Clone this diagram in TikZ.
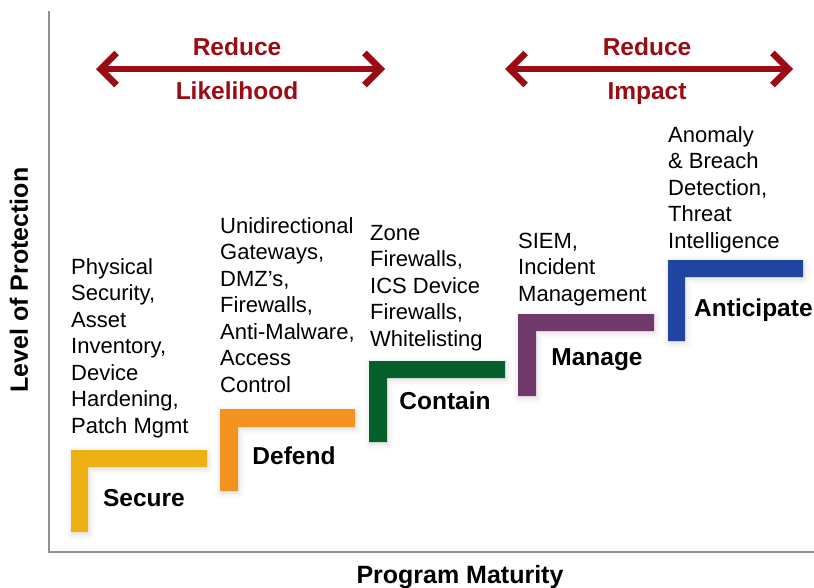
\documentclass[tikz,border=0pt]{standalone}
\usepackage{fontspec}
\setmainfont{Liberation Sans}
\usetikzlibrary{arrows.meta,shadows.blur}
\definecolor{axisgray}{HTML}{909095}
\definecolor{goalred}{HTML}{9B0B13}
\definecolor{secureC}{HTML}{EEB114}
\definecolor{defendC}{HTML}{F4921F}
\definecolor{containC}{HTML}{05612B}
\definecolor{manageC}{HTML}{713A6D}
\definecolor{anticipateC}{HTML}{1F45A0}
\tikzset{
  axis/.style={draw=axisgray, line width=2pt},
  axislabel/.style={font=\fontsize{25}{29}\selectfont\bfseries, text=black, inner sep=0pt},
  goalarrow/.style={draw=goalred, line width=6.5pt,
    {Straight Barb[length=16pt,width=32pt,sharp]}-{Straight Barb[length=16pt,width=32pt,sharp]}},
  goallabel/.style={font=\fontsize{24.5}{28}\selectfont\bfseries, text=goalred, inner sep=0pt, anchor=base},
  stair/.style={fill=#1, draw=none, blur shadow={shadow xshift=1pt, shadow yshift=-2pt, shadow blur radius=6pt, shadow opacity=15}},
  stagelabel/.style={font=\fontsize{24.5}{28}\selectfont\bfseries, inner sep=0pt, anchor=base},
  measures/.style={font=\fontsize{22}{26.5}\selectfont, align=left, inner sep=0pt, anchor=base west},
}
\begin{document}
\begin{tikzpicture}[x=1pt,y=-1pt]
\useasboundingbox (0,0) rectangle (814,587);

% axes
\coordinate (ytop) at (48.5,11);
\coordinate (origin) at (48.5,552);
\coordinate (xend) at (814,552);
\draw[axis] (ytop) -- (origin) -- (xend);
\node[axislabel, rotate=90, anchor=center] (ylab) at (19,280) {Level of Protection};
\node[axislabel, anchor=base] (xlab) at (460,583) {Program Maturity};

% goal arrows
\coordinate (likeL) at (96,69);
\coordinate (likeR) at (385,69);
\draw[goalarrow] (likeL) -- (likeR);
\node[goallabel] (red1) at (237,55) {Reduce};
\node[goallabel] (lik) at (237,99) {Likelihood};

\coordinate (impL) at (505,69);
\coordinate (impR) at (793,69);
\draw[goalarrow] (impL) -- (impR);
\node[goallabel] (red2) at (647,55) {Reduce};
\node[goallabel] (imp) at (647,99) {Impact};

% stairs
\path[stair=secureC] (71,450) -- (207,450) -- (207,467) -- (88,467) -- (88,532) -- (71,532) -- cycle;
\path[stair=defendC] (220,409) -- (355,409) -- (355,427) -- (238,427) -- (238,491) -- (220,491) -- cycle;
\path[stair=containC] (369,361) -- (505,361) -- (505,378) -- (387,378) -- (387,442) -- (369,442) -- cycle;
\path[stair=manageC] (518,314) -- (654,314) -- (654,331) -- (536,331) -- (536,396) -- (518,396) -- cycle;
\path[stair=anticipateC] (668,260) -- (803,260) -- (803,277) -- (685,277) -- (685,341) -- (668,341) -- cycle;

% stage names
\node[stagelabel] (secure) at (144,506) {Secure};
\node[stagelabel] (defend) at (294,464) {Defend};
\node[stagelabel] (contain) at (445,409) {Contain};
\node[stagelabel] (manage) at (597,365) {Manage};
\node[stagelabel, anchor=base west] (anticipate) at (694,316) {Anticipate};

% measures per stage (anchored at the baseline of the last line)
\node[measures] (secureM) at (71,433) {Physical\\Security,\\Asset\\Inventory,\\Device\\Hardening,\\Patch Mgmt};
\node[measures] (defendM) at (220,392) {Unidirectional\\Gateways,\\DMZ’s,\\Firewalls,\\Anti-Malware,\\Access\\Control};
\node[measures] (containM) at (370,346) {Zone\\Firewalls,\\ICS Device\\Firewalls,\\Whitelisting};
\node[measures] (manageM) at (518,301) {SIEM,\\Incident\\Management};
\node[measures] (anticipateM) at (668,248) {Anomaly\\\& Breach\\Detection,\\Threat\\Intelligence};
\end{tikzpicture}
\end{document}
